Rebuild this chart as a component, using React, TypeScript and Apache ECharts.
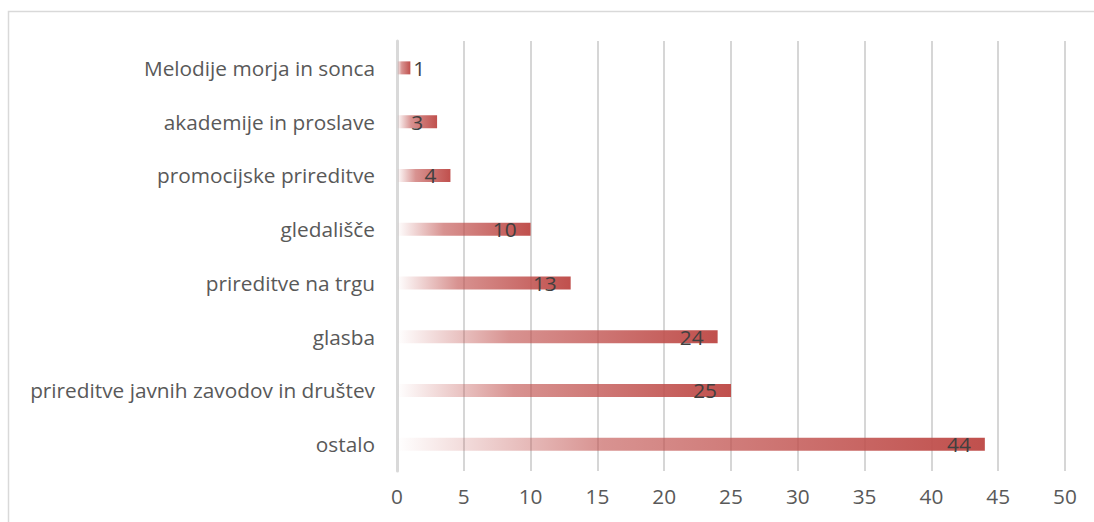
import React, { useEffect, useRef } from "react";
import * as echarts from "echarts";

const categories = [
  "ostalo",
  "prireditve javnih zavodov in društev",
  "glasba",
  "prireditve na trgu",
  "gledališče",
  "promocijske prireditve",
  "akademije in proslave",
  "Melodije morja in sonca",
];
const values = [44, 25, 24, 13, 10, 4, 3, 1];
const xMin = 0;
const xMax = 50;
const xInterval = 5;

const FONT = "Open Sans";

export default function App() {
  const ref = useRef<HTMLDivElement>(null);
  useEffect(() => {
    if (!ref.current) return;
    const chart = echarts.init(ref.current, undefined, { renderer: "svg" });
    const grad = new echarts.graphic.LinearGradient(0, 0, 1, 0, [
      { offset: 0, color: "rgba(192,80,77,0)" },
      { offset: 0.35, color: "rgba(192,80,77,0.62)" },
      { offset: 1, color: "rgba(192,80,77,1)" },
    ]);
    chart.setOption({
      animation: false,
      backgroundColor: "#ffffff",
      graphic: [
        {
          type: "rect",
          shape: { x: 8.5, y: 11.5, width: 1200, height: 600 },
          style: { fill: "none", stroke: "#D9D9D9", lineWidth: 1.5 },
          silent: true,
        },
      ],
      grid: { left: 397, right: 29, top: 41, bottom: 51, containLabel: false },
      xAxis: {
        type: "value",
        min: xMin,
        max: xMax,
        interval: xInterval,
        axisLine: { show: false },
        axisTick: { show: false },
        axisLabel: {
          color: "#595959",
          fontSize: 20.8,
          fontFamily: FONT,
          margin: 14,
        },
        splitLine: { show: true, lineStyle: { color: "#C8C8C8", width: 1.5 } },
      },
      yAxis: {
        type: "category",
        data: categories,
        axisLine: { show: true, lineStyle: { color: "#D9D9D9", width: 3 } },
        axisTick: { show: false },
        axisLabel: {
          color: "#595959",
          fontSize: 20.8,
          fontFamily: FONT,
          margin: 22,
        },
      },
      series: [
        {
          type: "bar",
          data: values.map((v) => ({
            value: v,
            label:
              v < 2
                ? { position: "right", distance: 3 }
                : { position: "insideRight", distance: 14 },
          })),
          barWidth: 13,
          itemStyle: { color: grad },
          label: {
            show: true,
            color: "#404040",
            fontSize: 20.8,
            fontFamily: FONT,
          },
        },
      ],
    });
    return () => chart.dispose();
  }, []);
  return (
    <div
      ref={ref}
      style={{ position: "fixed", left: 0, top: 0, width: 1094, height: 522 }}
    />
  );
}
